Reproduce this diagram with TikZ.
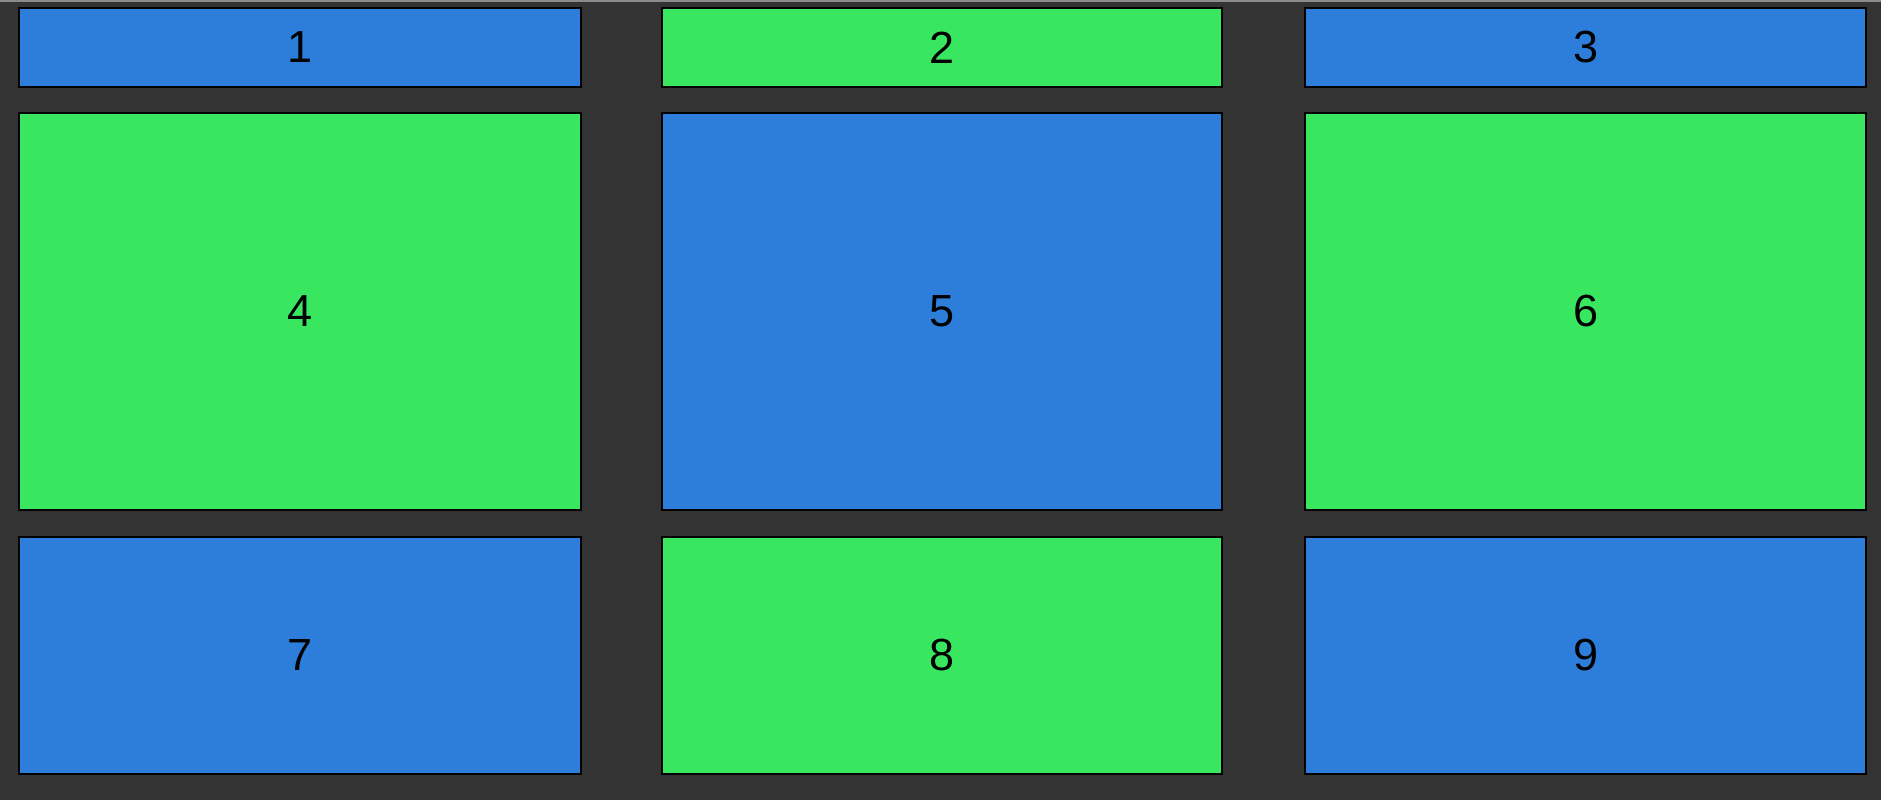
\documentclass[tikz,border=0pt]{standalone}
\usepackage{fontspec}
\setmainfont{Liberation Sans}
\definecolor{cellblue}{HTML}{2D7DDA}
\definecolor{cellgreen}{HTML}{38E660}
\definecolor{backdrop}{HTML}{333333}
\begin{document}
\begin{tikzpicture}
[x=1pt, y=-1pt,
 cell/.style={draw=black, line width=1.6pt, inner sep=0pt, font=\fontsize{45}{45}\selectfont},
 blue cell/.style={cell, fill=cellblue},
 green cell/.style={cell, fill=cellgreen}]
\fill[backdrop] (0,0) rectangle (1881,800);
\fill[black!45] (0,0) rectangle (1881,2);
\useasboundingbox (0,0) rectangle (1881,800);

% top row
\node (One) [blue cell, minimum width=562pt, minimum height=79pt] at (300,47.5) {1};
\node (Two) [green cell, minimum width=560pt, minimum height=79pt] at (942,47.5) {2};
\node (Three) [blue cell, minimum width=561pt, minimum height=79pt] at (1585.5,47.5) {3};

% middle row
\node (Four) [green cell, minimum width=562pt, minimum height=397pt] at (300,311.5) {4};
\node (Five) [blue cell, minimum width=560pt, minimum height=397pt] at (942,311.5) {5};
\node (Six) [green cell, minimum width=561pt, minimum height=397pt] at (1585.5,311.5) {6};

% bottom row
\node (Seven) [blue cell, minimum width=562pt, minimum height=237pt] at (300,655.5) {7};
\node (Eight) [green cell, minimum width=560pt, minimum height=237pt] at (942,655.5) {8};
\node (Nine) [blue cell, minimum width=561pt, minimum height=237pt] at (1585.5,655.5) {9};
\end{tikzpicture}
\end{document}
